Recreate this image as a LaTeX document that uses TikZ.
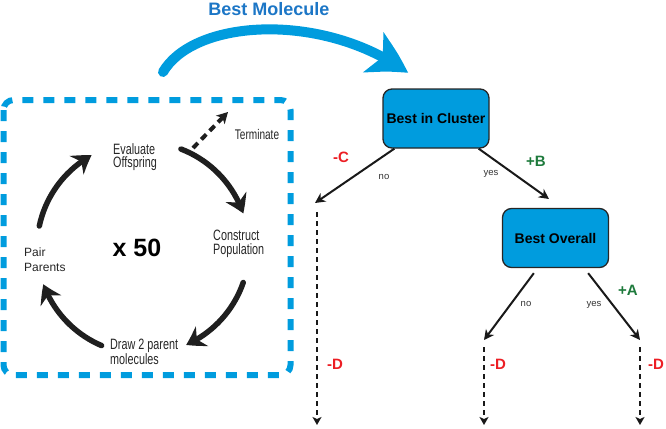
\documentclass[tikz,border=0pt]{standalone}
\usepackage{fontspec}
\setmainfont{Liberation Sans}
\newfontfamily\narrowsans[FakeStretch=0.72]{Liberation Sans}
\usetikzlibrary{arrows.meta,bending}
\definecolor{molblue}{RGB}{0,156,222}
\definecolor{titleblue}{RGB}{28,118,198}
\definecolor{penred}{RGB}{236,30,36}
\definecolor{bonusgreen}{RGB}{30,122,60}
\tikzset{
  cyclearrow/.style={line width=5.5pt,line cap=round,black!88,-{Stealth[length=18pt,width=23pt,inset=6pt,bend]}},
  steplabel/.style={font=\narrowsans\fontsize{15}{13.5}\selectfont,text=black!85,inner sep=0pt,align=left,anchor=north west},
  decision/.style={draw=black!85,line width=1.3pt,fill=molblue,rounded corners=9pt,minimum width=106pt,minimum height=59pt,font=\fontsize{14}{16}\selectfont\bfseries},
  branch/.style={line width=2pt,black!90,-{Stealth[length=10pt,width=10pt,inset=3pt]}},
  drop/.style={line width=2.5pt,black!90,dash pattern=on 5pt off 4pt,-{Stealth[length=8pt,width=9pt,inset=2pt]}},
  answer/.style={font=\fontsize{9.5}{11}\selectfont,text=black!80},
  score/.style={font=\fontsize{15}{17}\selectfont\bfseries}
}
\begin{document}
\begin{tikzpicture}[x=1pt,y=1pt]
  \useasboundingbox (0,0) rectangle (666,-428);
  \coordinate (hub) at (143,-248);
  \draw[molblue,line width=6pt,dash pattern=on 11pt off 10pt,rounded corners=10pt] (3.5,-100) rectangle (290.5,-375);
  \node[font=\fontsize{18}{20}\selectfont\bfseries,text=titleblue] (bestmol) at (269,-9) {Best Molecule};
  \coordinate (molstart) at (163,-72);
  \coordinate (moltip) at (408,-73);
  \draw[molblue,line width=10pt,line cap=round,-{Stealth[length=40pt,width=44pt,inset=10pt,bend]}] (molstart) .. controls (195,-18) and (325,-12) .. (moltip);
  \node[steplabel] (evaluate) at (113,-143) {Evaluate\\Offspring};
  \node[steplabel] (construct) at (213,-230) {Construct\\Population};
  \node[steplabel,font=\fontsize{12}{15}\selectfont] (pair) at (24,-248) {Pair\\Parents};
  \node[steplabel] (drawtwo) at (110,-339) {Draw 2 parent\\molecules};
  \node[steplabel,font=\narrowsans\fontsize{14}{15}\selectfont,anchor=center] (terminate) at (257,-134) {Terminate};
  \node[font=\fontsize{25}{28}\selectfont\bfseries] (times) at (137,-248) {x 50};
  \foreach \a/\b in {168/119,69/19,-19/-66,-113/-160} {
    \draw[cyclearrow] ([shift={(\a:106)}]hub) arc[start angle=\a,end angle=\b,radius=106];
  }
  \coordinate (termstart) at (193,-148);
  \coordinate (termtip) at (228,-112);
  \draw[line width=4pt,black!88,dash pattern=on 7pt off 5pt,-{Stealth[length=11pt,width=12pt,inset=3pt]}] (termstart) -- (termtip);
  \node[decision] (cluster) at (436,-118.5) {Best in Cluster};
  \node[decision] (overall) at (555.5,-238) {Best Overall};
  \coordinate (clusterno) at (315,-203);
  \coordinate (clusteryes) at (549,-199);
  \coordinate (overallno) at (484,-340);
  \coordinate (overallyes) at (640,-340);
  \draw[branch] ([xshift=12pt]cluster.south west) -- (clusterno);
  \draw[branch] ([xshift=-11pt]cluster.south east) -- (clusteryes);
  \draw[branch] ([xshift=32pt,yshift=-5pt]overall.south west) -- (overallno);
  \draw[branch] ([xshift=-21pt,yshift=-5pt]overall.south east) -- (overallyes);
  \node[answer] (noA) at (384,-177) {no};
  \node[answer] (yesA) at (491,-174) {yes};
  \node[answer] (noB) at (526,-304) {no};
  \node[answer] (yesB) at (594,-305) {yes};
  \node[score,text=penred] (minusC) at (341,-157) {-C};
  \node[score,text=bonusgreen] (plusB) at (536,-161) {+B};
  \node[score,text=bonusgreen] (plusA) at (628,-290) {+A};
  \foreach \x/\top/\lx/\n in {317/212/335/1,484/347/498/2,640/347/656/3} {
    \coordinate (dropA\n) at (\x,-\top);
    \coordinate (dropB\n) at (\x,-425);
    \draw[drop] (dropA\n) -- (dropB\n);
    \node[score,text=penred] (minusD\n) at (\lx,-364) {-D};
  }
\end{tikzpicture}
\end{document}
